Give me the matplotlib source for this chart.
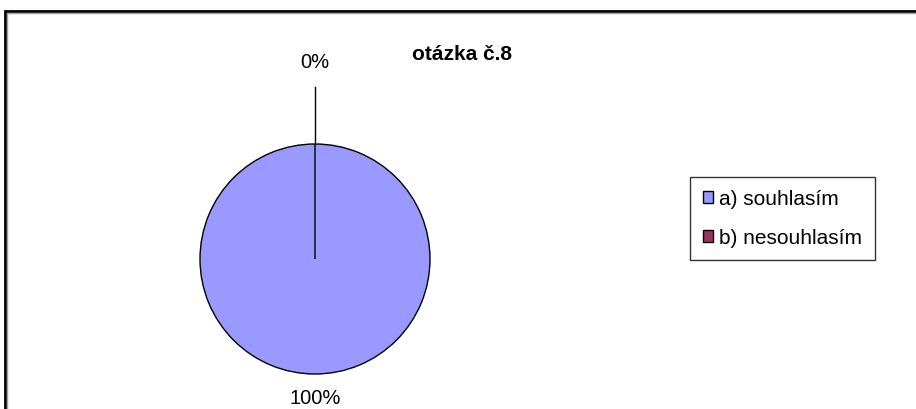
import numpy as np
import matplotlib
matplotlib.use('Agg')
from matplotlib import pyplot as plt
from matplotlib.patches import Rectangle

# Data
title = 'otázka č.8'
labels = ['a) souhlasím', 'b) nesouhlasím']
values = [100, 0]
colors = ['#9999FF', '#993366']

plt.rcParams['font.family'] = ['Liberation Sans', 'DejaVu Sans']

W, H = 916, 410
fig = plt.figure(figsize=(W / 100, H / 100), dpi=100)

# outer chart border (cut off at right and bottom)
fig.patches.append(Rectangle((5 / W, -0.1), 1.1, (H - 12) / H + 0.1,
                             transform=fig.transFigure, fill=False,
                             edgecolor='black', linewidth=2))
fig.patches.append(Rectangle((7 / W, -0.1), 1.1, (H - 14) / H + 0.1,
                             transform=fig.transFigure, fill=False,
                             edgecolor='#a0a0a0', linewidth=1))

# pie: centre (315, 260), radius 115 px
cx, cy, r = 315, 260, 115
ax = fig.add_axes([(cx - r) / W, (H - cy - r) / H, 2 * r / W, 2 * r / H])
wedges, _ = ax.pie(values, colors=colors, startangle=90, counterclock=False,
                   wedgeprops=dict(edgecolor='black', linewidth=1))
ax.set_xlim(-1, 1)
ax.set_ylim(-1, 1)
ax.set_aspect('equal')
ax.axis('off')

# percentage labels
total = float(sum(values))
for w, v in zip(wedges, values):
    ang = np.deg2rad((w.theta1 + w.theta2) / 2)
    pct = '%d%%' % round(100 * v / total)
    if v == 0:
        # leader line for the empty slice
        ax.plot([np.cos(ang), 1.5 * np.cos(ang)], [np.sin(ang), 1.5 * np.sin(ang)],
                color='black', linewidth=1, clip_on=False)
        d = 1.72
    else:
        d = 1.2
    ax.text(d * np.cos(ang), d * np.sin(ang), pct, ha='center', va='center',
            fontsize=14.5, clip_on=False)

fig.text(462 / W, 1 - 55 / H, title, ha='center', va='center',
         fontsize=15, fontweight='bold')

leg = fig.legend(wedges, labels, loc='upper left',
                 bbox_to_anchor=(690 / W, 1 - 178 / H),
                 frameon=True, fancybox=False, edgecolor='black',
                 fontsize=15, handlelength=0.5, handleheight=0.5,
                 handletextpad=0.3, labelspacing=0.95, borderpad=0.6,
                 borderaxespad=0)
leg.get_frame().set_linewidth(1)

fig.savefig('out.png', dpi=100)
